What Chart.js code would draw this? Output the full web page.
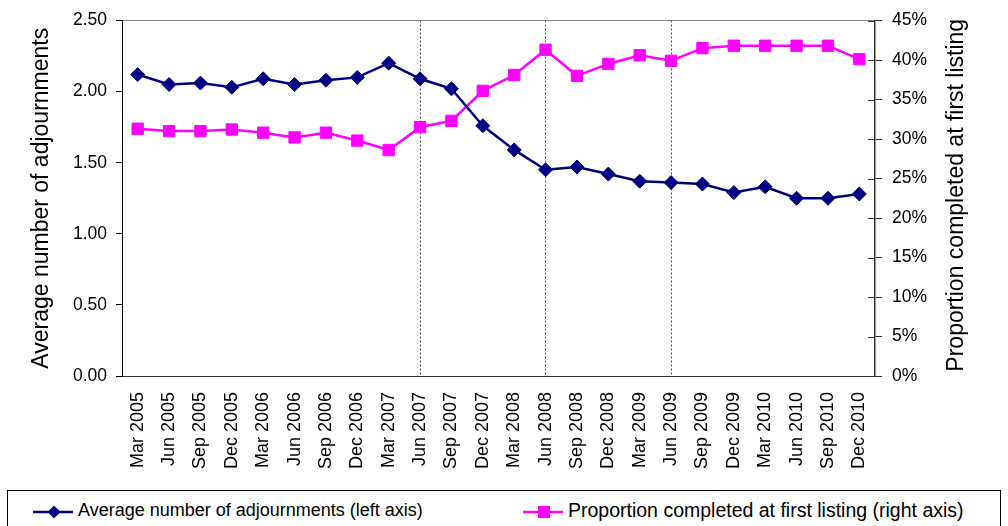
<!DOCTYPE html>
<html>
<head>
<meta charset="utf-8">
<script src="https://cdn.jsdelivr.net/npm/chart.js@4"></script>
<style>
  body { margin: 0; background: #fff; font-family: 'Liberation Sans', Arial, sans-serif; }
  #wrap { position: relative; width: 1008px; height: 526px; overflow: hidden; }
  #box { position: absolute; left: 0; top: 0; width: 1008px; height: 490px; }
  #legend { position: absolute; left: 7px; top: 490px; width: 992px; height: 60px; border: 1px solid #000; }
  .item { position: absolute; top: 9px; font-size: 18px; color: #000; white-space: nowrap; }
  .item svg { position: absolute; top: 4px; }
  .item span { position: absolute; top: 0; }
</style>
</head>
<body>
<div id="wrap">
  <div id="box"><canvas id="chart"></canvas></div>
  <div id="legend">
    <div class="item" style="left:25px">
      <svg width="42" height="16"><line x1="0" y1="8" x2="40" y2="8" stroke="#000080" stroke-width="2.5"/><polygon points="21,1.5 27.5,8 21,14.5 14.5,8" fill="#000080"/></svg>
      <span style="left:45px">Average number of adjournments (left axis)</span>
    </div>
    <div class="item" style="left:515px">
      <svg width="42" height="16"><line x1="0" y1="8" x2="40" y2="8" stroke="#ff00ff" stroke-width="2.5"/><rect x="15" y="2" width="12" height="12" fill="#ff00ff"/></svg>
      <span style="left:45px;font-size:19.5px;top:-1px">Proportion completed at first listing (right axis)</span>
    </div>
  </div>
</div>
<script>
const labels = ['Mar 2005', 'Jun 2005', 'Sep 2005', 'Dec 2005', 'Mar 2006', 'Jun 2006', 'Sep 2006', 'Dec 2006',
  'Mar 2007', 'Jun 2007', 'Sep 2007', 'Dec 2007', 'Mar 2008', 'Jun 2008', 'Sep 2008', 'Dec 2008',
  'Mar 2009', 'Jun 2009', 'Sep 2009', 'Dec 2009', 'Mar 2010', 'Jun 2010', 'Sep 2010', 'Dec 2010'];
const adjournments = [2.12, 2.05, 2.06, 2.03, 2.09, 2.05, 2.08, 2.10, 2.20, 2.09, 2.02, 1.76,
  1.59, 1.45, 1.47, 1.42, 1.37, 1.36, 1.35, 1.29, 1.33, 1.25, 1.25, 1.28];
const firstListing = [31.3, 31.0, 31.0, 31.2, 30.8, 30.2, 30.8, 29.8, 28.6, 31.5, 32.3, 36.1,
  38.1, 41.3, 38.0, 39.5, 40.6, 39.9, 41.5, 41.8, 41.8, 41.8, 41.8, 40.1];
const markerMonths = ['Jun 2007', 'Jun 2008', 'Jun 2009'];
const rightTitle = 'Proportion completed at first listing';

const FONT = "'Liberation Sans', Arial, sans-serif";

// right axis: ticks cross the axis line, and the title reads bottom to top
const rightAxisExtras = {
  id: 'rightAxisExtras',
  afterDraw(chart) {
    const s = chart.scales.y1;
    const ctx = chart.ctx;
    ctx.save();
    ctx.strokeStyle = '#333';
    ctx.lineWidth = 1;
    s.ticks.forEach(t => {
      const y = Math.round(s.getPixelForValue(t.value)) + 0.5;
      ctx.beginPath();
      ctx.moveTo(s.left - 7, y);
      ctx.lineTo(s.left, y);
      ctx.stroke();
    });
    ctx.translate(957, (s.top + s.bottom) / 2 - 3);
    ctx.rotate(-Math.PI / 2);
    ctx.fillStyle = '#000';
    ctx.font = '23px ' + FONT;
    ctx.textAlign = 'center';
    ctx.textBaseline = 'middle';
    ctx.fillText(rightTitle, 0, 0);
    ctx.restore();
  }
};

new Chart(document.getElementById('chart'), {
  type: 'line',
  data: {
    labels,
    datasets: [{
      label: 'Average number of adjournments (left axis)',
      data: adjournments,
      yAxisID: 'y',
      borderColor: '#000080',
      backgroundColor: '#000080',
      borderWidth: 2.5,
      pointStyle: 'rectRot',
      pointRadius: 7,
      pointHoverRadius: 7,
      pointBorderWidth: 1,
      tension: 0
    }, {
      label: 'Proportion completed at first listing (right axis)',
      data: firstListing,
      yAxisID: 'y1',
      borderColor: '#ff00ff',
      backgroundColor: '#ff00ff',
      borderWidth: 2.5,
      pointStyle: 'rect',
      pointRadius: 8,
      pointHoverRadius: 8,
      pointBorderWidth: 1,
      tension: 0
    }]
  },
  options: {
    responsive: true,
    maintainAspectRatio: false,
    animation: false,
    layout: { padding: { top: 14, left: 0, right: 0, bottom: 0 } },
    plugins: { legend: { display: false }, tooltip: { enabled: false } },
    scales: {
      x: {
        offset: true,
        afterFit: s => { s.height = 114; },
        grid: {
          drawTicks: false,
          lineWidth: 1,
          color: c => markerMonths.includes(labels[c.index]) ? '#555' : 'transparent'
        },
        border: { color: '#333', width: 1, dash: [2, 2] },
        ticks: {
          autoSkip: false,
          minRotation: 90,
          maxRotation: 90,
          padding: 16,
          color: '#000',
          font: { family: FONT, size: 18 }
        }
      },
      y: {
        position: 'left',
        min: 0,
        max: 2.5,
        afterFit: s => { s.width = 122; },
        grid: {
          tickLength: 6,
          tickColor: '#000',
          color: c => c.tick && c.tick.value === 2.5 ? '#808080' : 'transparent'
        },
        border: { color: '#000', width: 1 },
        ticks: {
          stepSize: 0.5,
          padding: 9,
          color: '#000',
          font: { family: FONT, size: 17.5 },
          callback: v => Number(v).toFixed(2)
        },
        title: {
          display: true,
          text: 'Average number of adjournments',
          color: '#000',
          font: { family: FONT, size: 23 },
          padding: { top: 28, bottom: 0 }
        }
      },
      y1: {
        position: 'right',
        min: 0,
        max: 45,
        afterFit: s => { s.width = 133; },
        grid: { drawOnChartArea: false, tickLength: 7, tickColor: '#333' },
        border: { color: '#333', width: 1.5 },
        ticks: {
          stepSize: 5,
          padding: 10,
          color: '#000',
          font: { family: FONT, size: 17.5 },
          callback: v => v + '%'
        }
      }
    }
  },
  plugins: [rightAxisExtras]
});
</script>
</body>
</html>
